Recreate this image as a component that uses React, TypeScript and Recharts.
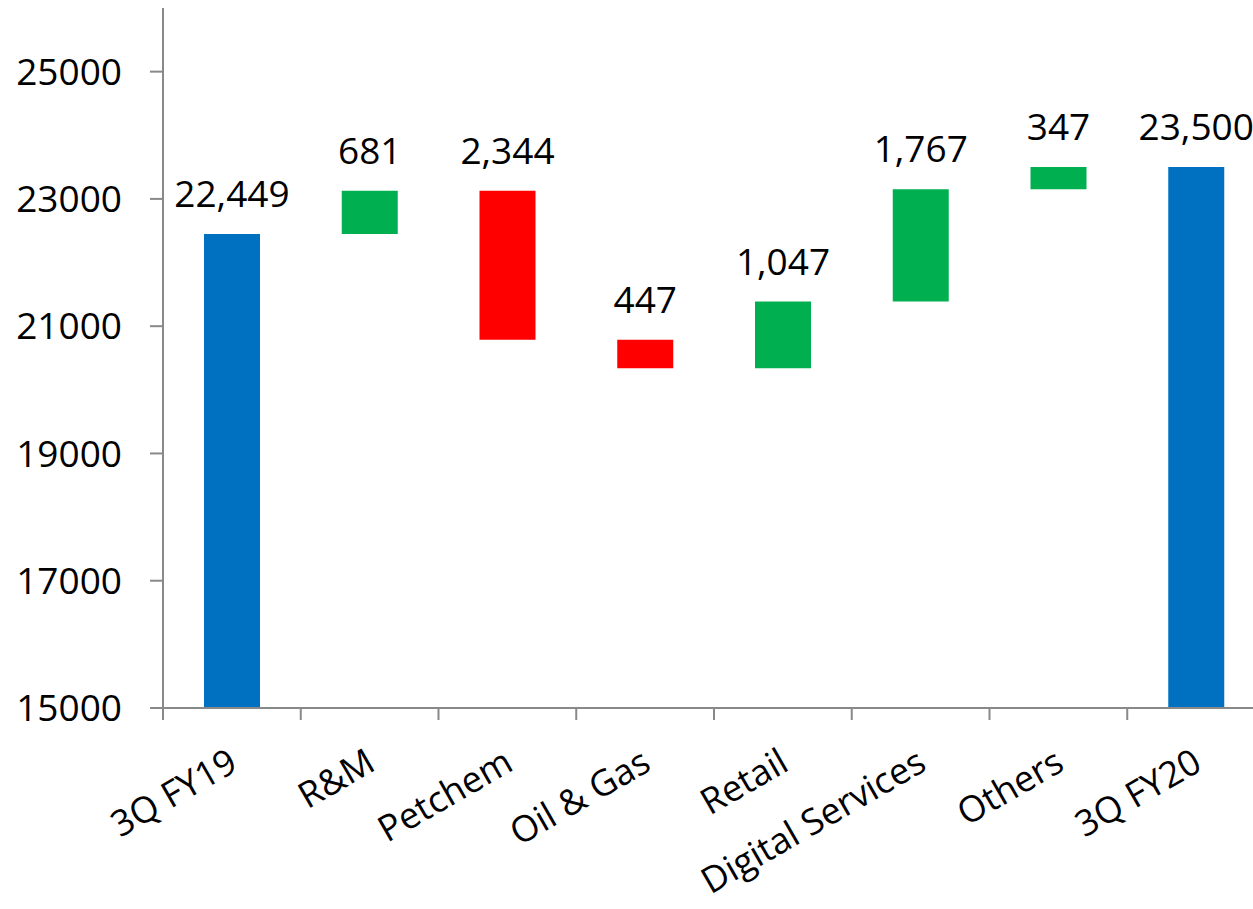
import React from 'react';
import { BarChart, Bar, XAxis, YAxis, Cell, LabelList } from 'recharts';

const categories = ['3Q FY19', 'R&M', 'Petchem', 'Oil & Gas', 'Retail', 'Digital Services', 'Others', '3Q FY20'];
const openingTotal = 22449;
const segmentChanges = [681, -2344, -447, 1047, 1767, 347];
const closingTotal = 23500;
const yTicks = [15000, 17000, 19000, 21000, 23000, 25000];
const yDomain = [15000, 26000];

const BLUE = '#0070C0';
const GREEN = '#00B050';
const RED = '#FF0000';
const AXIS = '#898989';
const FONT = '"Open Sans", sans-serif';
const FS = 37;
const XFS = 36;

const CHART_W = 1265;
const CHART_H = 909;
const Y_W = 163;
const X_H = 201;
const PLOT_W = CHART_W - Y_W;

type Row = { name: string; range: [number, number]; label: number; color: string };

const data: Row[] = [];
let running = openingTotal;
data.push({ name: categories[0], range: [0, openingTotal], label: openingTotal, color: BLUE });
segmentChanges.forEach((c, i) => {
  const next = running + c;
  data.push({
    name: categories[i + 1],
    range: [Math.min(running, next), Math.max(running, next)],
    label: Math.abs(c),
    color: c >= 0 ? GREEN : RED,
  });
  running = next;
});
data.push({ name: categories[categories.length - 1], range: [0, closingTotal], label: closingTotal, color: BLUE });

const TICK_MARGIN = 39;
const TICK_LEN = 12;

const XTick = (props: any) => {
  const { x, y, payload, width, visibleTicksCount } = props;
  const band = (typeof width === 'number' && width > 0 ? width : PLOT_W) / (visibleTicksCount || categories.length);
  const axisY = y - TICK_MARGIN;
  const lx = x - band / 2;
  const tx = x - 5;
  return (
    <g>
      <line x1={lx} x2={lx} y1={axisY} y2={axisY + TICK_LEN} stroke={AXIS} strokeWidth={2} />
      <text
        x={tx}
        y={y}
        dy="0.71em"
        textAnchor="end"
        transform={`rotate(-30, ${tx}, ${y})`}
        fill="#000"
        fontSize={XFS}
        fontFamily={FONT}
      >
        {payload.value}
      </text>
    </g>
  );
};

const BarLabel = (props: any) => {
  const { x, y, width, height, value } = props;
  const top = Math.min(y, y + height);
  return (
    <text x={x + width / 2} y={top - 27} textAnchor="middle" fill="#000" fontSize={FS} fontFamily={FONT}>
      {Number(value).toLocaleString('en-US')}
    </text>
  );
};

export default function App() {
  return (
    <div style={{ position: 'fixed', left: 0, top: 0, width: 1253, height: 909, overflow: 'hidden', background: '#fff' }}>
      <BarChart
        width={CHART_W}
        height={CHART_H}
        data={data}
        margin={{ top: 8, right: 0, bottom: 0, left: 0 }}
        barSize={56}
        style={{ fontFamily: FONT }}
      >
        <XAxis
          dataKey="name"
          height={X_H}
          interval={0}
          tickLine={false}
          tickSize={0}
          tickMargin={TICK_MARGIN}
          axisLine={{ stroke: AXIS, strokeWidth: 2 }}
          tick={<XTick />}
        />
        <YAxis
          width={Y_W}
          domain={yDomain}
          ticks={yTicks}
          allowDataOverflow
          interval={0}
          tickSize={13}
          tickMargin={28}
          axisLine={{ stroke: AXIS, strokeWidth: 2 }}
          tickLine={{ stroke: AXIS, strokeWidth: 2 }}
          tick={{ fill: '#000', fontSize: FS, fontFamily: FONT }}
        />
        <Bar dataKey="range" isAnimationActive={false}>
          {data.map((d, i) => (
            <Cell key={i} fill={d.color} />
          ))}
          <LabelList dataKey="label" content={<BarLabel />} />
        </Bar>
      </BarChart>
    </div>
  );
}
